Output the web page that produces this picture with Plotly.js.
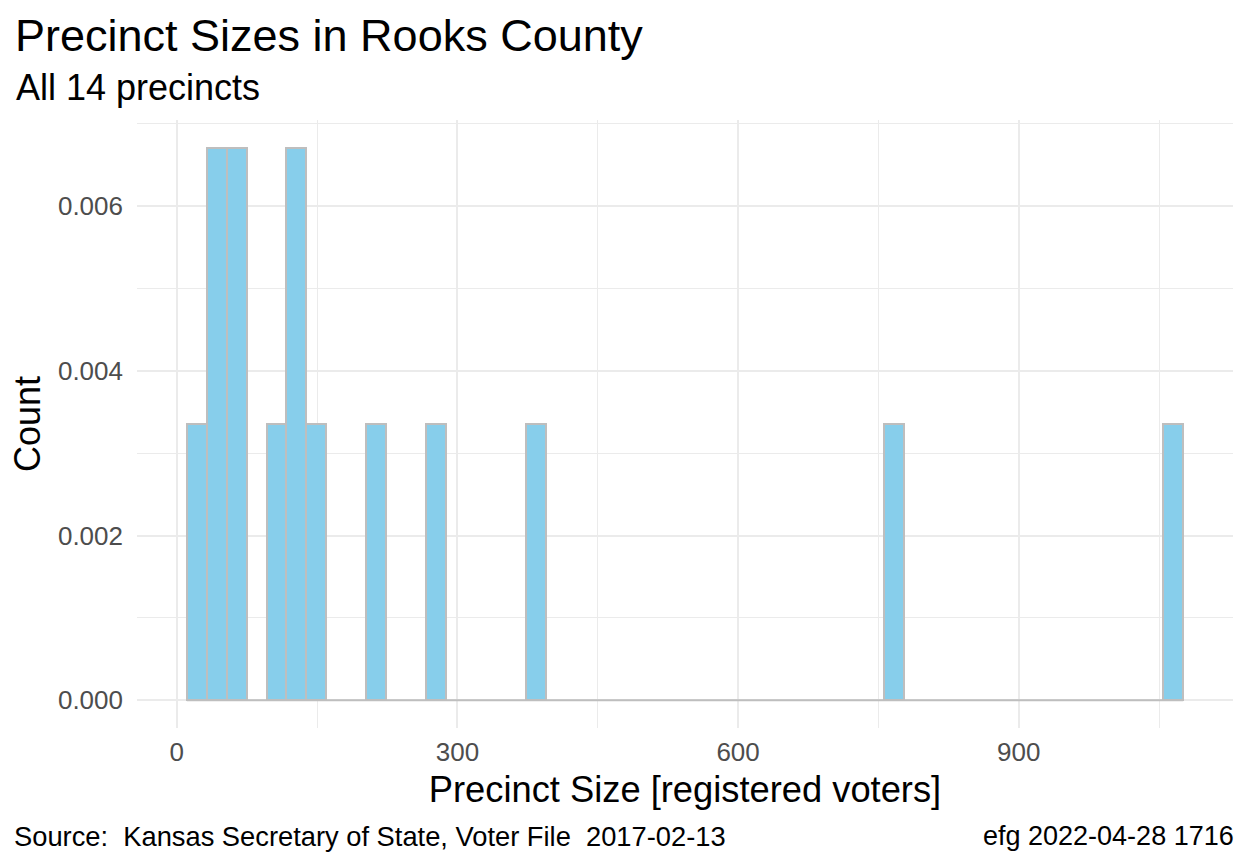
<!DOCTYPE html>
<html>
<head>
<meta charset="utf-8">
<script src="https://cdn.plot.ly/plotly-3.0.1.min.js"></script>
<style>
  html, body { margin: 0; padding: 0; background: #ffffff; }
  #chart { width: 1248px; height: 864px; }
</style>
</head>
<body>
<div id="chart"></div>
<script>
// ---- data ----
var nPrecincts = 14;
var binStart = 10.75;      // left edge of the first bin [registered voters]
var binWidth = 21.3;       // width of each bin
var nBins = 50;
var binIndex = [0, 1, 2, 4, 5, 6, 9, 12, 17, 35, 49];   // non-empty bins
var binCount = [1, 2, 2, 1, 2, 1, 1, 1, 1, 1, 1];       // precincts per bin
var xTickVals = [0, 300, 600, 900];
var yTickVals = [0, 0.002, 0.004, 0.006];

// ---- derived from data ----
var binCenters = binIndex.map(function (k) { return binStart + (k + 0.5) * binWidth; });
var density = binCount.map(function (c) { return c / (nPrecincts * binWidth); });
var binEnd = binStart + nBins * binWidth;
var span = binEnd - binStart;
var maxD = Math.max.apply(null, density);

var FONT = '"Liberation Sans", Arial, "DejaVu Sans", sans-serif';
var GRID = '#ebebeb';

var traces = [
  {
    type: 'bar',
    x: binCenters,
    y: density,
    width: binCenters.map(function () { return binWidth; }),
    marker: { color: '#87ceeb', line: { color: '#bebebe', width: 2 } },
    hoverinfo: 'x+y',
    showlegend: false
  },
  {
    type: 'scatter',
    mode: 'lines',
    x: [binStart, binEnd],
    y: [0, 0],
    line: { color: '#bebebe', width: 2 },
    hoverinfo: 'skip',
    showlegend: false
  }
];

var layout = {
  width: 1248,
  height: 864,
  paper_bgcolor: '#ffffff',
  plot_bgcolor: '#ffffff',
  margin: { l: 137, r: 15, t: 120, b: 136, pad: 0 },
  font: { family: FONT, color: '#000000' },
  bargap: 0,
  title: {
    text: 'Precinct Sizes in Rooks County',
    font: { family: FONT, size: 45, color: '#000000' },
    x: 15 / 1248, xref: 'container', xanchor: 'left',
    y: 1 - 35 / 864, yref: 'container', yanchor: 'middle'
  },
  xaxis: {
    range: [binStart - 0.05 * span, binEnd + 0.05 * span],
    tickvals: xTickVals,
    ticktext: xTickVals.map(String),
    showgrid: true, gridcolor: GRID, gridwidth: 1.7,
    minor: { tick0: 150, dtick: 300, showgrid: true, gridcolor: GRID, gridwidth: 1 },
    zeroline: false, showline: false, ticks: '',
    ticklabelstandoff: 6,
    tickfont: { family: FONT, size: 26, color: '#4d4d4d' },
    title: { text: 'Precinct Size [registered voters]', font: { family: FONT, size: 36.3, color: '#000000' }, standoff: 10 },
    automargin: false,
    fixedrange: true
  },
  yaxis: {
    range: [-0.05 * maxD, 1.05 * maxD],
    tickvals: yTickVals,
    tickformat: '.3f',
    showgrid: true, gridcolor: GRID, gridwidth: 1.7,
    minor: { tick0: 0.001, dtick: 0.002, showgrid: true, gridcolor: GRID, gridwidth: 1 },
    zeroline: false, showline: false, ticks: '',
    ticklabelstandoff: 13,
    tickfont: { family: FONT, size: 26, color: '#4d4d4d' },
    title: { text: 'Count', font: { family: FONT, size: 36, color: '#000000' }, standoff: 6 },
    automargin: false,
    fixedrange: true
  },
  annotations: [
    {
      text: 'All 14 precincts',
      xref: 'paper', yref: 'paper',
      x: (14 - 137) / 1096, y: (728 - 87) / 608,
      xanchor: 'left', yanchor: 'middle', showarrow: false,
      font: { family: FONT, size: 36, color: '#000000' }
    },
    {
      text: 'Source:  Kansas Secretary of State, Voter File  2017-02-13',
      xref: 'paper', yref: 'paper',
      x: (12 - 137) / 1096, y: (728 - 836) / 608,
      xanchor: 'left', yanchor: 'middle', showarrow: false,
      font: { family: FONT, size: 27.3, color: '#000000' }
    },
    {
      text: 'efg 2022-04-28 1716',
      xref: 'paper', yref: 'paper',
      x: (1236 - 137) / 1096, y: (728 - 836) / 608,
      xanchor: 'right', yanchor: 'middle', showarrow: false,
      font: { family: FONT, size: 27, color: '#000000' }
    }
  ]
};

Plotly.newPlot('chart', traces, layout, { displayModeBar: false, staticPlot: false });
</script>
</body>
</html>
